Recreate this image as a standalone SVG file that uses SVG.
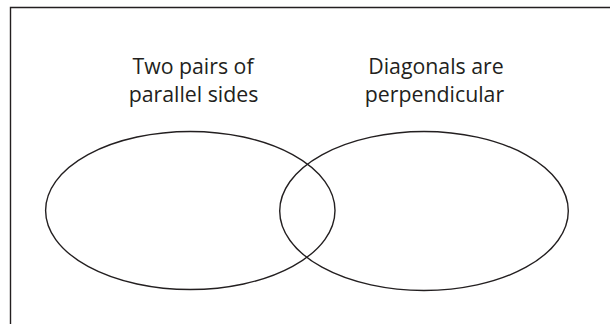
<svg xmlns="http://www.w3.org/2000/svg" width="610" height="324" viewBox="0 0 610 324">
<style>
.ln{fill:none;stroke:#231f20;stroke-width:1.4}
.t{font-family:"Open Sans","Noto Sans",sans-serif;font-size:21.3px;fill:#231f20;text-anchor:middle}
</style>
<rect width="610" height="324" fill="#fff"/>
<g id="frame"><path class="ln" d="M10.5 324 V7.5 H610" stroke-width="1.6"/></g>
<g id="set-parallel">
<ellipse class="ln" cx="190.3" cy="210.5" rx="144.7" ry="79"/>
<text class="t" x="193" y="73.5">Two pairs of</text>
<text class="t" x="193.5" y="101.5">parallel sides</text>
</g>
<g id="set-perpendicular">
<ellipse class="ln" cx="424" cy="211" rx="144.3" ry="79.5"/>
<text class="t" x="436" y="73.5">Diagonals are</text>
<text class="t" x="434.5" y="101.5">perpendicular</text>
</g>
</svg>
